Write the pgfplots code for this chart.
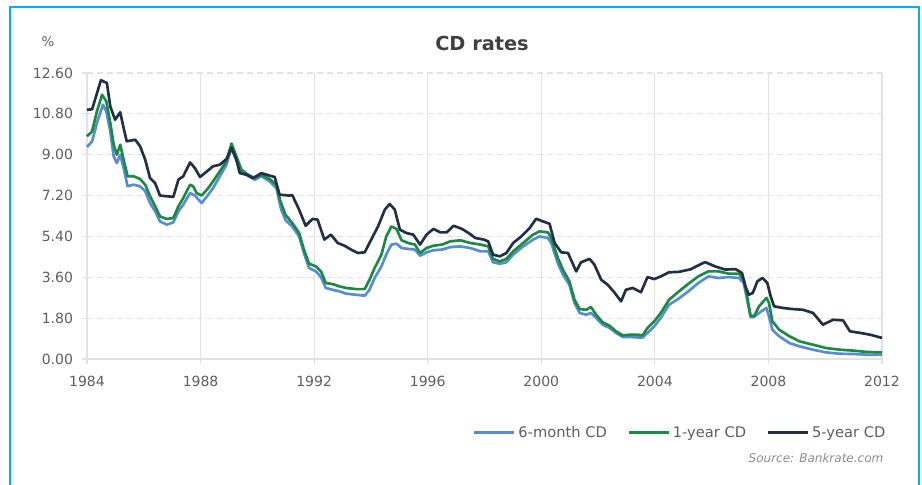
\documentclass[border=0pt]{standalone}
\usepackage{fontspec}
\setmainfont{DejaVu Sans}
\usepackage{pgfplots}
\pgfplotsset{compat=1.18}
\definecolor{sixm}{HTML}{5B8BD0}
\definecolor{oney}{HTML}{1B8A45}
\definecolor{fivey}{HTML}{232F45}
\definecolor{framec}{HTML}{00B0F0}
\definecolor{gridc}{HTML}{E2E2E2}
\definecolor{labc}{HTML}{5E5E5E}
\definecolor{titlec}{HTML}{404040}
\begin{document}
\begin{tikzpicture}
\path[use as bounding box] (0,0) rectangle (691.5pt,363.75pt);
\draw[framec, line width=1.5pt] (7.5pt,0) -- (7.5pt,358.5pt) -- (689.25pt,358.5pt) -- (689.25pt,0);
\begin{axis}[
  at={(65.25pt,94.5pt)}, anchor=south west,
  scale only axis, width=596.25pt, height=214.5pt,
  xmin=1984, xmax=2012, ymin=0, ymax=12.6,
  xtick={1984,1988,1992,1996,2000,2004,2008,2012},
  ytick={0,1.8,3.6,5.4,7.2,9,10.8,12.6},
  axis x line*=bottom, axis y line*=left,
  axis line style={draw=gridc, line width=1pt},
  xmajorgrids, ymajorgrids,
  major x grid style={draw=gridc, line width=0.8pt},
  major y grid style={draw=gridc, line width=0.8pt, dash pattern=on 4.5pt off 3pt},
  tick align=outside, major tick length=3.5pt,
  tick style={draw=gridc, line width=0.8pt},
  /pgf/number format/assume math mode=true,
  ticklabel style={font=\fontsize{10.5}{12}\selectfont, text=labc},
  yticklabel style={xshift=-3.5pt, /pgf/number format/.cd, fixed, fixed zerofill, precision=2},
  xticklabel style={yshift=-5.5pt, /pgf/number format/.cd, set thousands separator={}},
  clip=false,
  legend columns=3,
  legend style={at={(1.013,-0.258)}, anchor=east, draw=none, fill=none,
    font=\fontsize{11}{13}\selectfont, text=labc,
    /tikz/every even column/.append style={column sep=13.5pt}},
  legend image code/.code={\draw[#1] (0pt,0pt) -- (30pt,0pt);},
  every axis plot/.append style={line width=2pt, line join=round},
]
\addplot[sixm] coordinates {
(1984.00,9.34) (1984.18,9.59) (1984.35,10.40) (1984.56,11.20) (1984.68,10.91) (1984.82,10.03)
(1984.94,8.93) (1985.05,8.63) (1985.17,9.00) (1985.29,8.41) (1985.43,7.61) (1985.64,7.68)
(1985.87,7.61) (1986.05,7.39) (1986.22,6.87) (1986.40,6.51) (1986.57,6.06) (1986.81,5.92)
(1987.04,6.02) (1987.22,6.51) (1987.39,6.80) (1987.63,7.31) (1987.80,7.20) (1988.04,6.87)
(1988.27,7.24) (1988.44,7.53) (1988.68,8.05) (1988.91,8.56) (1989.09,9.30) (1989.26,8.78)
(1989.44,8.27) (1989.67,8.08) (1989.91,7.90) (1990.14,8.05) (1990.43,7.83) (1990.67,7.53)
(1990.84,6.58) (1991.00,6.10) (1991.23,5.84) (1991.47,5.40) (1991.64,4.67) (1991.82,4.01)
(1992.06,3.86) (1992.24,3.61) (1992.41,3.13) (1992.65,3.05) (1992.89,2.98) (1993.12,2.88)
(1993.48,2.83) (1993.78,2.79) (1993.95,3.05) (1994.13,3.57) (1994.37,4.08) (1994.54,4.60)
(1994.72,5.04) (1994.90,5.08) (1995.08,4.89) (1995.31,4.85) (1995.55,4.82) (1995.73,4.55)
(1995.96,4.70) (1996.20,4.79) (1996.50,4.82) (1996.79,4.93) (1997.15,4.96) (1997.50,4.89)
(1997.86,4.74) (1998.13,4.75) (1998.30,4.26) (1998.54,4.20) (1998.77,4.26) (1999.01,4.60)
(1999.36,4.96) (1999.71,5.26) (1999.94,5.40) (2000.23,5.33) (2000.35,5.11) (2000.58,4.23)
(2000.76,3.72) (2000.99,3.27) (2001.17,2.47) (2001.35,2.03) (2001.58,1.95) (2001.75,2.03)
(2001.93,1.81) (2002.16,1.51) (2002.40,1.37) (2002.63,1.15) (2002.87,0.97) (2003.10,0.97)
(2003.39,0.95) (2003.57,0.95) (2003.74,1.15) (2003.98,1.44) (2004.21,1.81) (2004.50,2.39)
(2004.85,2.67) (2005.18,2.98) (2005.53,3.35) (2005.89,3.64) (2006.24,3.57) (2006.60,3.61)
(2006.96,3.57) (2007.13,3.35) (2007.25,2.61) (2007.37,1.85) (2007.49,1.85) (2007.67,2.03)
(2007.93,2.25) (2008.02,1.88) (2008.14,1.29) (2008.38,1.00) (2008.74,0.70) (2009.09,0.56)
(2009.57,0.41) (2010.04,0.29) (2010.52,0.23) (2010.99,0.22) (2011.47,0.19) (2012.00,0.19)
};
\addlegendentry{6-month CD}
\addplot[oney] coordinates {
(1984.00,9.81) (1984.18,10.03) (1984.35,10.91) (1984.53,11.64) (1984.68,11.35) (1984.82,10.40)
(1984.94,9.44) (1985.05,9.00) (1985.17,9.44) (1985.29,8.78) (1985.43,8.05) (1985.64,8.05)
(1985.87,7.93) (1986.05,7.68) (1986.22,7.17) (1986.40,6.73) (1986.57,6.28) (1986.81,6.17)
(1987.04,6.21) (1987.22,6.73) (1987.39,7.09) (1987.63,7.68) (1987.74,7.61) (1987.86,7.31)
(1988.04,7.20) (1988.27,7.53) (1988.44,7.83) (1988.68,8.27) (1988.91,8.71) (1989.09,9.49)
(1989.26,8.93) (1989.44,8.34) (1989.67,8.12) (1989.91,7.97) (1990.14,8.12) (1990.43,7.93)
(1990.67,7.68) (1990.80,7.00) (1990.99,6.35) (1991.23,5.99) (1991.47,5.55) (1991.64,4.82)
(1991.82,4.20) (1992.06,4.08) (1992.24,3.86) (1992.41,3.35) (1992.65,3.30) (1992.89,3.20)
(1993.12,3.13) (1993.48,3.08) (1993.78,3.08) (1993.95,3.49) (1994.13,4.01) (1994.37,4.60)
(1994.54,5.40) (1994.72,5.84) (1994.90,5.73) (1995.08,5.23) (1995.31,5.11) (1995.55,5.04)
(1995.73,4.67) (1995.96,4.89) (1996.20,4.99) (1996.50,5.04) (1996.79,5.18) (1997.15,5.23)
(1997.50,5.11) (1997.86,5.04) (1998.13,4.96) (1998.30,4.41) (1998.54,4.30) (1998.77,4.41)
(1999.01,4.74) (1999.36,5.11) (1999.71,5.48) (1999.94,5.62) (2000.23,5.58) (2000.35,5.33)
(2000.58,4.45) (2000.76,3.94) (2000.99,3.42) (2001.17,2.61) (2001.35,2.20) (2001.58,2.17)
(2001.75,2.29) (2001.93,1.95) (2002.16,1.62) (2002.40,1.47) (2002.63,1.22) (2002.87,1.04)
(2003.10,1.07) (2003.39,1.07) (2003.57,1.04) (2003.74,1.37) (2003.98,1.66) (2004.21,2.03)
(2004.50,2.61) (2004.85,2.98) (2005.18,3.31) (2005.53,3.64) (2005.89,3.86) (2006.24,3.86)
(2006.60,3.76) (2006.96,3.76) (2007.13,3.49) (2007.25,2.76) (2007.37,1.91) (2007.49,1.88)
(2007.67,2.32) (2007.93,2.69) (2008.02,2.47) (2008.14,1.66) (2008.38,1.29) (2008.74,1.00)
(2009.09,0.78) (2009.57,0.63) (2010.04,0.48) (2010.52,0.41) (2010.99,0.37) (2011.47,0.31)
(2012.00,0.29)
};
\addlegendentry{1-year CD}
\addplot[fivey] coordinates {
(1984.00,10.98) (1984.18,11.00) (1984.49,12.28) (1984.70,12.16) (1984.82,11.13) (1984.99,10.54)
(1985.17,10.87) (1985.29,10.18) (1985.40,9.59) (1985.70,9.66) (1985.87,9.37) (1986.05,8.78)
(1986.22,7.97) (1986.40,7.75) (1986.57,7.20) (1986.81,7.17) (1987.04,7.14) (1987.22,7.90)
(1987.39,8.05) (1987.63,8.66) (1987.80,8.41) (1987.98,8.02) (1988.15,8.19) (1988.44,8.49)
(1988.68,8.56) (1988.91,8.81) (1989.09,9.30) (1989.26,8.78) (1989.38,8.19) (1989.61,8.12)
(1989.85,7.97) (1990.14,8.19) (1990.43,8.08) (1990.61,8.02) (1990.78,7.24) (1991.13,7.20)
(1991.23,7.22) (1991.47,6.58) (1991.70,5.87) (1991.94,6.17) (1992.12,6.14) (1992.36,5.26)
(1992.59,5.48) (1992.83,5.11) (1993.07,4.99) (1993.30,4.82) (1993.54,4.67) (1993.78,4.70)
(1994.01,5.26) (1994.25,5.84) (1994.49,6.58) (1994.66,6.83) (1994.84,6.58) (1995.02,5.70)
(1995.25,5.55) (1995.49,5.48) (1995.73,5.04) (1995.96,5.48) (1996.20,5.73) (1996.44,5.58)
(1996.67,5.58) (1996.91,5.87) (1997.21,5.73) (1997.44,5.55) (1997.68,5.33) (1997.98,5.26)
(1998.13,5.18) (1998.30,4.60) (1998.54,4.52) (1998.77,4.67) (1999.01,5.11) (1999.30,5.40)
(1999.59,5.77) (1999.82,6.18) (2000.06,6.06) (2000.29,5.96) (2000.47,5.11) (2000.70,4.70)
(2000.94,4.67) (2001.23,3.86) (2001.40,4.26) (2001.70,4.41) (2001.87,4.16) (2002.11,3.49)
(2002.34,3.27) (2002.57,2.94) (2002.81,2.54) (2002.98,3.05) (2003.22,3.13) (2003.51,2.94)
(2003.74,3.61) (2003.98,3.52) (2004.21,3.64) (2004.50,3.82) (2004.85,3.84) (2005.25,3.95)
(2005.77,4.27) (2006.12,4.08) (2006.48,3.94) (2006.84,3.96) (2007.07,3.79) (2007.19,3.20)
(2007.31,2.83) (2007.45,2.91) (2007.61,3.42) (2007.79,3.57) (2007.96,3.35) (2008.08,2.76)
(2008.20,2.32) (2008.50,2.25) (2008.85,2.20) (2009.21,2.17) (2009.57,2.03) (2009.92,1.51)
(2010.28,1.73) (2010.63,1.70) (2010.87,1.22) (2011.23,1.15) (2011.58,1.07) (2012.00,0.93)
};
\addlegendentry{5-year CD}
\end{axis}
\node[font=\bfseries\fontsize{14.5}{16}\selectfont, text=titlec] at (361.5pt,331.5pt) {CD rates};
\node[font=\fontsize{10}{12}\selectfont, text=labc] at (36pt,332.25pt) {\%};
\node[anchor=east, font=\itshape\fontsize{9}{11}\selectfont, text=black!45] at (666pt,20.25pt) {Source: Bankrate.com};
\end{tikzpicture}
\end{document}
